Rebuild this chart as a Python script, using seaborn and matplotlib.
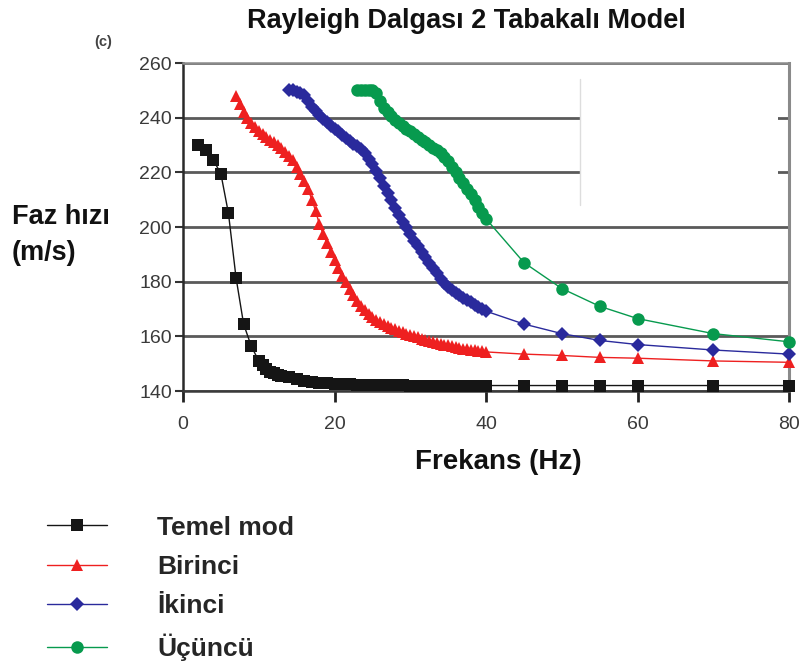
import matplotlib
matplotlib.use("Agg")
import matplotlib.pyplot as plt
import matplotlib.patches as mpatches
import seaborn as sns
import pandas as pd

# ---------------- data ----------------
series_names = ["Temel mod", "Birinci", "İkinci", "Üçüncü"]

temel_f = [2, 3, 4, 5, 6, 7, 8, 9, 10, 10.5, 11, 11.5, 12, 12.5, 13, 14, 15, 16, 17,
           18, 19, 20, 21, 22, 23, 24, 25, 26, 27, 28, 29, 30, 31, 32, 33, 34, 35,
           36, 37, 38, 39, 40, 45, 50, 55, 60, 70, 80]
temel_v = [230, 228, 224.5, 219.5, 205, 181.5, 164.5, 156.5, 151, 149.5, 148, 147,
           146.5, 146, 145.5, 145, 144.3, 143.8, 143.3, 143, 142.8, 142.6, 142.5,
           142.4, 142.3, 142.3, 142.2, 142.2, 142.1, 142.1, 142.1, 142, 142, 142,
           142, 142, 142, 142, 142, 142, 142, 142, 142, 142, 142, 142, 142, 142]

birinci_f = [7, 7.5, 8, 8.5, 9, 9.5, 10, 10.5, 11, 11.5, 12, 12.5, 13, 13.5, 14, 14.5,
             15, 15.5, 16, 16.5, 17, 17.5, 18, 18.5, 19, 19.5, 20, 20.5, 21, 21.5, 22,
             22.5, 23, 23.5, 24, 24.5, 25, 25.5, 26, 26.5, 27, 27.5, 28, 28.5, 29, 29.5,
             30, 30.5, 31, 31.5, 32, 32.5, 33, 33.5, 34, 34.5, 35, 35.5, 36, 36.5, 37,
             37.5, 38, 38.5, 39, 39.5, 40, 45, 50, 55, 60, 70, 80]
birinci_v = [248, 245, 242, 240, 238, 236.5, 235, 234, 233, 232, 231, 230, 229, 227.5,
             226, 224.5, 222, 219.5, 217, 214, 210, 206, 201, 197.5, 194, 191, 188, 185,
             182, 180, 177.5, 175, 173, 171, 169.5, 168, 167, 166, 165.2, 164.5, 163.8,
             163.2, 162.6, 162, 161.5, 161, 160.5, 160, 159.6, 159.2, 158.8, 158.4, 158,
             157.6, 157.3, 157, 156.7, 156.4, 156.1, 155.8, 155.5, 155.3, 155.1, 154.9,
             154.7, 154.5, 154.3, 153.5, 153, 152.3, 152, 151, 150.5]

ikinci_f = [14, 14.5, 15, 15.5, 16, 16.5, 17, 17.5, 18, 18.5, 19, 19.5, 20, 20.5, 21,
            21.5, 22, 22.5, 23, 23.5, 24, 24.5, 25, 25.5, 26, 26.5, 27, 27.5, 28, 28.5,
            29, 29.5, 30, 30.5, 31, 31.5, 32, 32.5, 33, 33.5, 34, 34.5, 35, 35.5, 36,
            36.5, 37, 37.5, 38, 38.5, 39, 39.5, 40, 45, 50, 55, 60, 70, 80]
ikinci_v = [250, 250, 249.5, 249, 248.3, 246, 244, 242.5, 241, 239.5, 238.3, 237, 236,
            235, 233.8, 232.7, 231.6, 230.5, 229.5, 228.5, 227, 225, 223, 220.5, 218,
            215, 212.5, 210, 207, 204.5, 202, 200, 197.5, 195, 193, 191, 189, 187, 185,
            183, 181, 179.5, 178.2, 177, 176, 175, 174, 173.2, 172.5, 171.5, 170.7, 170,
            169.2, 164.5, 161, 158.5, 157, 155, 153.5]

ucuncu_f = [23, 23.5, 24, 24.5, 25, 25.5, 26, 26.5, 27, 27.5, 28, 28.5, 29, 29.5, 30,
            30.5, 31, 31.5, 32, 32.5, 33, 33.5, 34, 34.5, 35, 35.5, 36, 36.5, 37, 37.5,
            38, 38.5, 39, 39.5, 40, 45, 50, 55, 60, 70, 80]
ucuncu_v = [250, 250, 250, 250, 250, 249, 246, 243.5, 242, 240.5, 239, 238, 237, 236,
            235, 234, 233, 232, 231, 230, 229, 228, 227, 225.5, 224, 222, 220, 218, 216,
            214, 212, 210, 207.5, 205, 203, 187, 177.5, 171, 166.5, 161, 158]

x_ticks = [0, 20, 40, 60, 80]
y_ticks = [140, 160, 180, 200, 220, 240, 260]

# ---------------- styling ----------------
sns.set_theme(style="white")
plt.rcParams["font.family"] = ["Liberation Sans", "DejaVu Sans"]

colors = ["#151515", "#ee2020", "#2a2a9c", "#079a4e"]
markers = ["s", "^", "D", "o"]
msizes = [8.4, 8.6, 7.0, 9.0]

df = pd.concat([
    pd.DataFrame({"f": temel_f, "v": temel_v, "mode": series_names[0]}),
    pd.DataFrame({"f": birinci_f, "v": birinci_v, "mode": series_names[1]}),
    pd.DataFrame({"f": ikinci_f, "v": ikinci_v, "mode": series_names[2]}),
    pd.DataFrame({"f": ucuncu_f, "v": ucuncu_v, "mode": series_names[3]}),
], ignore_index=True)

W, H = 808, 671
fig = plt.figure(figsize=(W / 100, H / 100), dpi=100)
L, R, T, B = 183, 789, 63, 391
ax = fig.add_axes([L / W, 1 - B / H, (R - L) / W, (B - T) / H])

for name, c, m, ms in zip(series_names, colors, markers, msizes):
    sub = df[df["mode"] == name]
    sns.lineplot(data=sub, x="f", y="v", ax=ax, color=c, marker=m, markersize=ms,
                 markeredgewidth=0, linewidth=1.0, estimator=None, sort=False,
                 legend=False, label=name, zorder=3, clip_on=False)

handles = list(ax.get_lines())[:4]

ax.set_xlim(0, 80)
ax.set_ylim(140, 260)
ax.set_xticks(x_ticks)
ax.set_yticks(y_ticks)
ax.set_xlabel("")
ax.set_ylabel("")
ax.yaxis.grid(True, color="#5a5a5a", linewidth=2.0, zorder=0)
ax.xaxis.grid(False)
ax.set_axisbelow(True)

ax.spines["left"].set_color("#2a2a2a")
ax.spines["left"].set_linewidth(1.8)
ax.spines["bottom"].set_color("#3a3a3a")
ax.spines["bottom"].set_linewidth(1.8)
ax.spines["top"].set_color("#8a8a8a")
ax.spines["top"].set_linewidth(1.8)
ax.spines["right"].set_color("#8a8a8a")
ax.spines["right"].set_linewidth(2.2)

ax.tick_params(axis="y", direction="out", length=6, width=1.5, color="#333333",
               labelsize=14, labelcolor="#3a3a3a", pad=2, left=True)
ax.tick_params(axis="x", direction="out", length=8, width=2, color="#222222",
               labelsize=14, labelcolor="#3a3a3a", pad=10, bottom=True)

# white patch artefact in the upper right of the plot area
ax.add_patch(mpatches.Rectangle((52.4, 208), 26.2, 46, facecolor="white",
                                edgecolor="none", zorder=1.5))
ax.axvline(52.4, ymin=(208 - 140) / 120, ymax=(254 - 140) / 120,
           color="#dddddd", linewidth=1, zorder=1.6)

# texts
fig.text(466 / W, 1 - 28 / H, "Rayleigh Dalgası 2 Tabakalı Model", ha="center",
         va="baseline", fontsize=19.5, fontweight="bold", color="#111111")
fig.text(103 / W, 1 - 42 / H, "(c)", ha="center", va="center", fontsize=10.5,
         fontweight="bold", color="#444444")
fig.text(12 / W, 1 - 235 / H, "Faz hızı\n(m/s)", ha="left", va="center",
         fontsize=19.5, fontweight="bold", color="#111111", linespacing=1.5)
fig.text(498 / W, 1 - 469 / H, "Frekans (Hz)", ha="center", va="baseline",
         fontsize=20, fontweight="bold", color="#111111")

fig.legend(handles=handles, labels=series_names, loc="upper left",
           bbox_to_anchor=(36 / W, 1 - 505 / H), frameon=False, numpoints=1,
           prop={"weight": "bold", "size": 19}, handlelength=2.3,
           handletextpad=1.9, labelspacing=0.58, borderaxespad=0)

fig.savefig("out.png", dpi=100)
